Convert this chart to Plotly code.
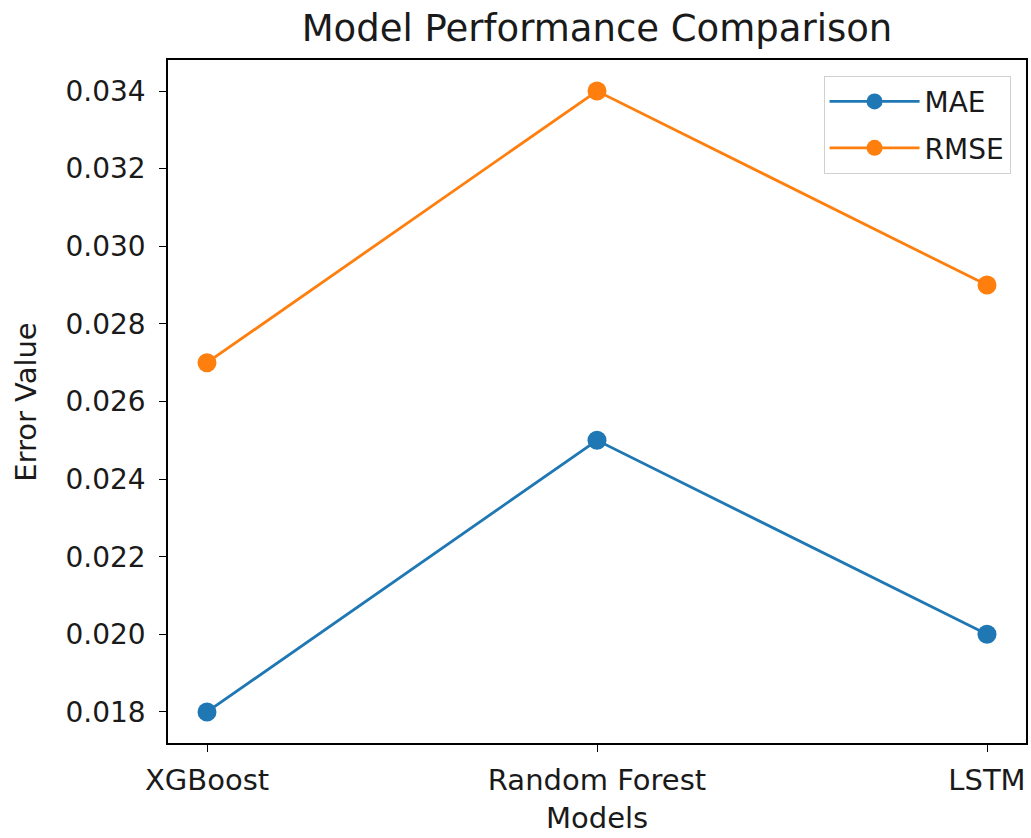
import plotly.graph_objects as go

models = ["XGBoost", "Random Forest", "LSTM"]
mae = [0.018, 0.025, 0.020]
rmse = [0.027, 0.034, 0.029]
yticks = [0.018, 0.020, 0.022, 0.024, 0.026, 0.028, 0.030, 0.032, 0.034]

font = "DejaVu Sans"
L, R, T, B = 168, 3, 60, 95
W, H = 1031, 838
pw, ph = W - L - R, H - T - B

fig = go.Figure()
fig.add_trace(go.Scatter(x=[0, 1, 2], y=mae, mode="lines+markers", name="MAE",
                         legendgroup="mae",
                         line=dict(color="#1f77b4", width=2.8),
                         marker=dict(size=19, color="#1f77b4")))
fig.add_trace(go.Scatter(x=[0, 1, 2], y=rmse, mode="lines+markers", name="RMSE",
                         legendgroup="rmse",
                         line=dict(color="#ff7f0e", width=2.8),
                         marker=dict(size=19, color="#ff7f0e")))

fig.update_layout(
    width=W, height=H,
    margin=dict(l=L, r=R, t=T, b=B),
    paper_bgcolor="white", plot_bgcolor="white",
    font=dict(family=font, size=28, color="#1a1a1a"),
    title=dict(text="Model Performance Comparison", x=0.5, xref="paper", xanchor="center",
               y=0.967, yanchor="middle", font=dict(size=37, color="#1a1a1a")),
    showlegend=True,
    legend=dict(x=0.982, y=0.977, xanchor="right", yanchor="top",
                bgcolor="rgba(255,255,255,0.8)", bordercolor="#d0d0d0", borderwidth=1,
                font=dict(size=28), itemwidth=90, tracegroupgap=7),
    annotations=[
        dict(text="Error Value", xref="paper", yref="paper",
             x=(25 - L) / pw, y=0.5, xanchor="center", yanchor="middle",
             textangle=-90, showarrow=False, font=dict(size=29)),
        dict(text="Models", xref="paper", yref="paper",
             x=0.5, y=-(818 - (H - B)) / ph, xanchor="center", yanchor="middle",
             showarrow=False, font=dict(size=29)),
    ],
)
fig.update_xaxes(range=[-0.1, 2.1], tickmode="array", tickvals=[0, 1, 2], ticktext=models,
                 showline=True, linecolor="black", linewidth=1.6, mirror=True,
                 ticks="outside", ticklen=7, tickwidth=1.3, tickcolor="black",
                 showgrid=False, zeroline=False, ticklabelstandoff=3,
                 tickfont=dict(size=29))
fig.update_yaxes(range=[0.0172, 0.0348], tickmode="array", tickvals=yticks,
                 ticktext=[f"{v:.3f}" for v in yticks],
                 showline=True, linecolor="black", linewidth=1.6, mirror=True,
                 ticks="outside", ticklen=7, tickwidth=1.3, tickcolor="black",
                 showgrid=False, zeroline=False, ticklabelstandoff=8)

fig.write_html("out.html", config={"displayModeBar": False},
               post_script="document.body.style.margin='0';")
